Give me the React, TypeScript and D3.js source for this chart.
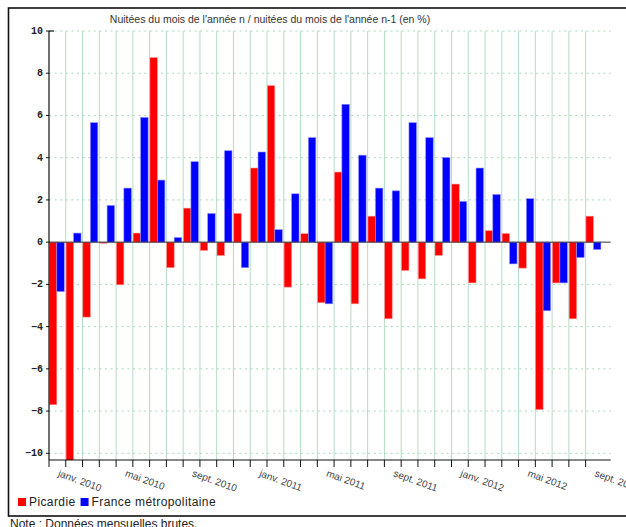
import React, { useEffect, useRef } from 'react';
import * as d3 from 'd3';

// months jan. 2010 -> sept. 2012
const months = [
  '2010-01', '2010-02', '2010-03', '2010-04', '2010-05', '2010-06', '2010-07', '2010-08', '2010-09', '2010-10', '2010-11', '2010-12',
  '2011-01', '2011-02', '2011-03', '2011-04', '2011-05', '2011-06', '2011-07', '2011-08', '2011-09', '2011-10', '2011-11', '2011-12',
  '2012-01', '2012-02', '2012-03', '2012-04', '2012-05', '2012-06', '2012-07', '2012-08', '2012-09',
];

const picardie = [
  -7.7, -10.6, -3.55, -0.05, -2.02, 0.43, 8.74, -1.21, 1.61, -0.39, -0.63, 1.36,
  3.51, 7.41, -2.13, 0.4, -2.87, 3.32, -2.92, 1.23, -3.63, -1.34, -1.74, -0.63,
  2.75, -1.93, 0.54, 0.41, -1.23, -7.93, -1.93, -3.63, 1.23,
];

const france = [
  -2.34, 0.43, 5.66, 1.74, 2.56, 5.91, 2.94, 0.22, 3.81, 1.36, 4.33, -1.21,
  4.27, 0.59, 2.29, 4.95, -2.92, 6.53, 4.12, 2.56, 2.43, 5.66, 4.95, 4.01,
  1.93, 3.51, 2.26, -1.03, 2.06, -3.25, -1.93, -0.73, -0.35,
];

const series = [
  { name: 'Picardie', values: picardie, color: '#ff0000' },
  { name: 'France métropolitaine', values: france, color: '#0000ff' },
];

const yTicks = [-10, -8, -6, -4, -2, 0, 2, 4, 6, 8, 10];
const labelMonths = ['2010-01', '2010-05', '2010-09', '2011-01', '2011-05', '2011-09', '2012-01', '2012-05', '2012-09'];
const labelTexts = ['janv. 2010', 'mai 2010', 'sept. 2010', 'janv. 2011', 'mai 2011', 'sept. 2011', 'janv. 2012', 'mai 2012', 'sept. 2012'];

const title = "Nuitées du mois de l'année n / nuitées du mois de l'année n-1 (en %)";
const note = 'Note : Données mensuelles brutes.';

const App: React.FC = () => {
  const ref = useRef<SVGSVGElement>(null);

  useEffect(() => {
    const width = 626;
    const height = 527;
    const left = 49;
    const groupW = 16.77;
    const right = 610.7;
    const top = 31;
    const bottom = 460;

    const svg = d3.select(ref.current)
      .attr('width', width)
      .attr('height', height);
    svg.selectAll('*').remove();

    // frame
    svg.append('rect')
      .attr('x', 8.5).attr('y', 8).attr('width', 640).attr('height', 508)
      .attr('fill', 'none').attr('stroke', '#111').attr('stroke-width', 1.6);

    const x = d3.scaleBand<string>()
      .domain(months)
      .range([left, left + groupW * months.length])
      .paddingInner(0).paddingOuter(0);

    const xs = d3.scaleBand<string>()
      .domain(series.map(s => s.name))
      .range([0.3, groupW - 1.5]);

    const y = d3.scaleLinear()
      .domain([-10, 10])
      .range([453.3, top]);

    const g = svg.append('g');

    // horizontal dashed grid
    g.selectAll('line.hgrid')
      .data(yTicks.filter(t => t !== 0))
      .join('line')
      .attr('class', 'hgrid')
      .attr('x1', left).attr('x2', right)
      .attr('y1', d => y(d)).attr('y2', d => y(d))
      .attr('stroke', '#a8d8b8').attr('stroke-width', 1)
      .attr('stroke-dasharray', '2,3.6');

    // vertical grid at month boundaries
    const bounds = months.slice(1);
    g.selectAll('line.vgrid')
      .data(bounds)
      .join('line')
      .attr('class', 'vgrid')
      .attr('x1', d => x(d)!).attr('x2', d => x(d)!)
      .attr('y1', top).attr('y2', bottom)
      .attr('stroke', '#b4dcc2').attr('stroke-width', 1);

    // bars
    const clipId = 'plotclip';
    svg.append('clipPath').attr('id', clipId)
      .append('rect').attr('x', left).attr('y', top).attr('width', right - left).attr('height', bottom - top);

    const bars = svg.append('g').attr('clip-path', `url(#${clipId})`);
    series.forEach(s => {
      bars.selectAll(`rect.s${s.color.slice(1)}`)
        .data(s.values)
        .join('rect')
        .attr('x', (_, i) => x(months[i])! + xs(s.name)!)
        .attr('width', xs.bandwidth())
        .attr('y', d => y(Math.max(0, d)))
        .attr('height', d => Math.abs(y(d) - y(0)))
        .attr('fill', s.color)
        .attr('stroke', s.color === '#ff0000' ? '#ff9090' : '#9090ff')
        .attr('stroke-width', 0.6);
    });

    // zero line
    svg.append('line')
      .attr('x1', left).attr('x2', right)
      .attr('y1', y(0)).attr('y2', y(0))
      .attr('stroke', '#333').attr('stroke-width', 1);

    // y axis
    svg.append('line')
      .attr('x1', left).attr('x2', left).attr('y1', top).attr('y2', bottom)
      .attr('stroke', '#111').attr('stroke-width', 1.2);
    svg.append('line')
      .attr('x1', left).attr('x2', left + 5).attr('y1', top).attr('y2', top)
      .attr('stroke', '#111').attr('stroke-width', 1.2);

    svg.selectAll('line.ytick')
      .data(yTicks)
      .join('line')
      .attr('class', 'ytick')
      .attr('x1', left - 3).attr('x2', left)
      .attr('y1', d => y(d)).attr('y2', d => y(d))
      .attr('stroke', '#111');

    svg.selectAll('text.ylab')
      .data(yTicks)
      .join('text')
      .attr('class', 'ylab')
      .attr('x', 43)
      .attr('y', d => y(d) + 3)
      .attr('text-anchor', 'end')
      .attr('font-family', 'Liberation Mono, DejaVu Sans Mono, monospace')
      .attr('font-weight', 'bold')
      .attr('font-size', 10)
      .attr('fill', '#222')
      .text(d => (d < 0 ? '\u2212' + Math.abs(d) : String(d)));

    // x axis
    svg.append('line')
      .attr('x1', left).attr('x2', right).attr('y1', bottom).attr('y2', bottom)
      .attr('stroke', '#111').attr('stroke-width', 1.2);

    svg.selectAll('line.xtick')
      .data(months)
      .join('line')
      .attr('class', 'xtick')
      .attr('x1', d => x(d)!).attr('x2', d => x(d)!)
      .attr('y1', bottom).attr('y2', bottom + 7)
      .attr('stroke', '#111');

    svg.selectAll('text.xlab')
      .data(labelMonths)
      .join('text')
      .attr('class', 'xlab')
      .attr('transform', d => `translate(${x(d)! + x.bandwidth() / 2},${bottom + 16}) rotate(20)`)
      .attr('font-family', 'Liberation Sans, Arial, sans-serif')
      .attr('font-size', 10)
      .attr('fill', '#444')
      .text((_, i) => labelTexts[i]);

    // title
    svg.append('text')
      .attr('x', 270).attr('y', 23)
      .attr('text-anchor', 'middle')
      .attr('font-family', 'Liberation Sans, Arial, sans-serif')
      .attr('font-size', 10.5)
      .attr('fill', '#333')
      .text(title);

    // legend
    const legend = svg.append('g').attr('transform', 'translate(18,497)');
    let lx = 0;
    series.forEach(s => {
      legend.append('rect').attr('x', lx).attr('y', 1).attr('width', 8).attr('height', 8).attr('fill', s.color);
      const t = legend.append('text')
        .attr('x', lx + 11).attr('y', 9)
        .attr('font-family', 'Liberation Sans, Arial, sans-serif')
        .attr('font-size', 12)
        .attr('letter-spacing', 0.4)
        .attr('fill', '#222')
        .text(s.name);
      const w = (t.node() as SVGTextElement).getComputedTextLength();
      lx += 11 + w + 5;
    });

    // note
    svg.append('text')
      .attr('x', 10).attr('y', 527.5)
      .attr('font-family', 'Liberation Sans, Arial, sans-serif')
      .attr('font-size', 12)
      .attr('fill', '#222')
      .text(note);
  }, []);

  return (
    <svg ref={ref} style={{ position: 'absolute', left: 0, top: 0 }} />
  );
};

export default App;
